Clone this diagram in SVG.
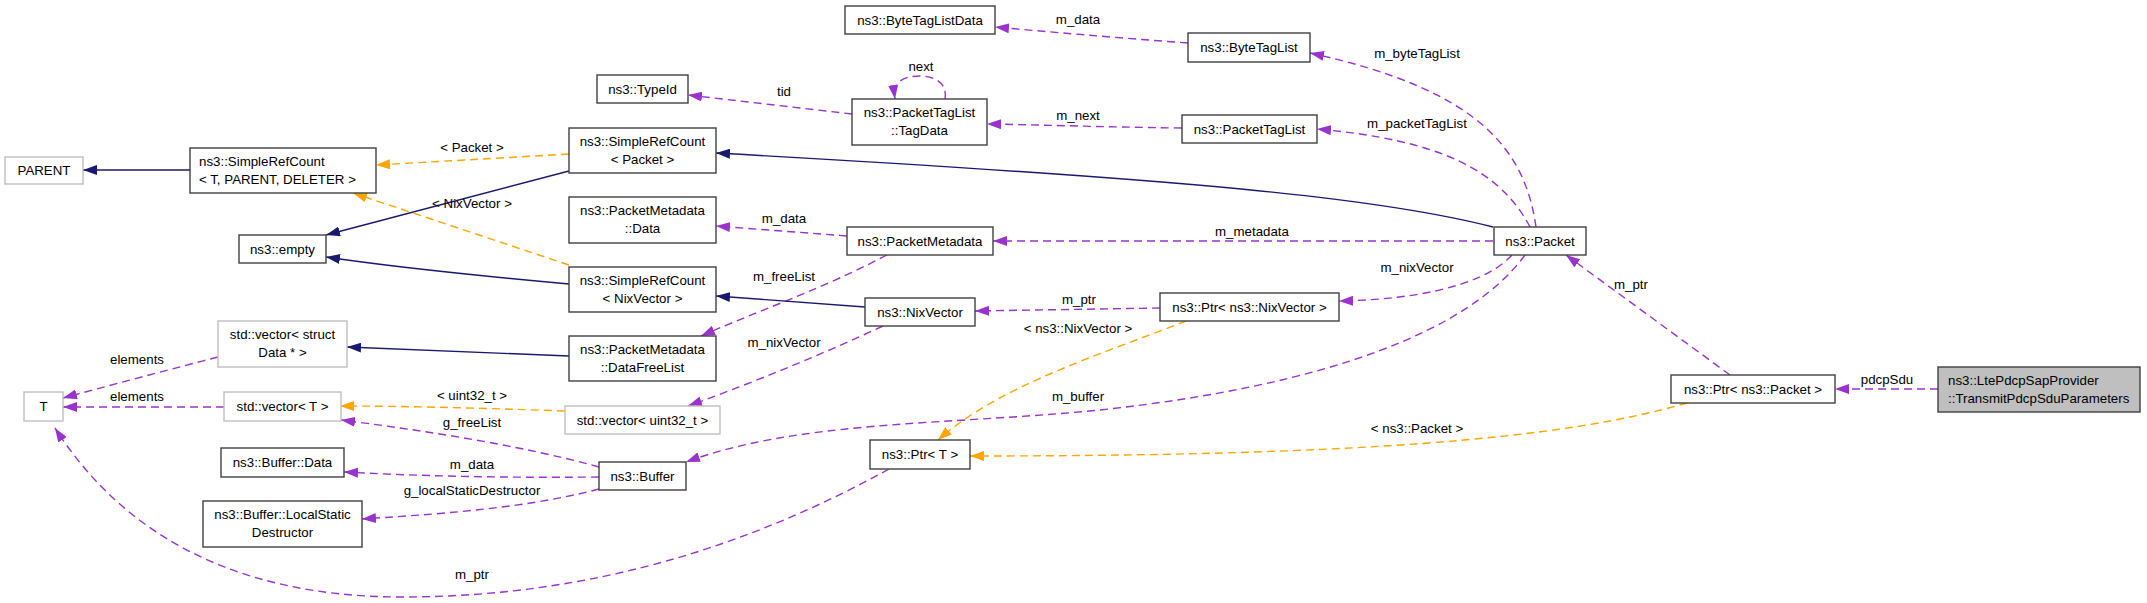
<svg xmlns="http://www.w3.org/2000/svg" width="2147" height="603" viewBox="0 0 2147 603">
<style>
text{font-family:"Liberation Sans",Arial,Helvetica,sans-serif;font-size:13.3px;fill:#000}
.n rect{fill:#fff;stroke:#404040;stroke-width:1.4}
.g rect{fill:#fff;stroke:#bfbfbf;stroke-width:1.4}
.h rect{fill:#bfbfbf;stroke:#404040;stroke-width:1.4}
.c{text-anchor:middle}
.e path{fill:none;stroke-width:1.4}
.inh{stroke:#191970;marker-end:url(#an)}
.use{stroke:#9a32cd;stroke-dasharray:8,5;marker-end:url(#ap)}
.tpl{stroke:#ffa500;stroke-dasharray:8,5;marker-end:url(#ao)}
</style>
<defs>
<marker id="an" viewBox="0 0 14 10" refX="14" refY="5" markerWidth="14" markerHeight="10" markerUnits="userSpaceOnUse" orient="auto"><path d="M0,0 L14,5 L0,10 z" fill="#191970"/></marker>
<marker id="ap" viewBox="0 0 14 10" refX="14" refY="5" markerWidth="14" markerHeight="10" markerUnits="userSpaceOnUse" orient="auto"><path d="M0,0 L14,5 L0,10 z" fill="#9a32cd"/></marker>
<marker id="ao" viewBox="0 0 14 10" refX="14" refY="5" markerWidth="14" markerHeight="10" markerUnits="userSpaceOnUse" orient="auto"><path d="M0,0 L14,5 L0,10 z" fill="#ffa500"/></marker>
</defs>
<rect width="2147" height="603" fill="#fff"/>
<g id="connectors" class="e">
<path class="inh" d="M190,170 L83,170"/>
<path class="tpl" d="M569,154 C500,158 430,162 376,165"/>
<text class="c" x="472" y="152">&lt; Packet &gt;</text>
<path class="inh" d="M569,171 L326,235"/>
<path class="tpl" d="M569,265 L353,193"/>
<text class="c" x="472" y="208">&lt; NixVector &gt;</text>
<path class="inh" d="M569,284 C470,275 400,268 326,257"/>
<path class="inh" d="M569,356 L347,347"/>
<path class="use" d="M218,357 C160,372 100,388 63,398"/>
<text class="c" x="137" y="364">elements</text>
<path class="use" d="M224,407 L63,407"/>
<text class="c" x="137" y="401">elements</text>
<path class="tpl" d="M565,411 C480,408 400,406 340,406"/>
<text class="c" x="472" y="400">&lt; uint32_t &gt;</text>
<path class="use" d="M599,467 C520,445 420,430 341,420"/>
<text class="c" x="472" y="427">g_freeList</text>
<path class="use" d="M599,477 C500,478 420,476 344,472"/>
<text class="c" x="472" y="469">m_data</text>
<path class="use" d="M599,489 C520,510 420,515 362,519"/>
<text class="c" x="472" y="495">g_localStaticDestructor</text>
<path class="use" d="M889,469 C760,540 600,597 402,597 C230,597 120,530 55,428"/>
<text class="c" x="472" y="579">m_ptr</text>
<path class="use" d="M847,236 L716,226"/>
<text class="c" x="784" y="223">m_data</text>
<path class="use" d="M887,255 C820,290 760,310 701,336"/>
<text class="c" x="784" y="281">m_freeList</text>
<path class="inh" d="M865,307 L716,296"/>
<path class="use" d="M883,326 C820,355 760,380 688,406"/>
<text class="c" x="784" y="347">m_nixVector</text>
<path class="use" d="M1160,308 L975,311"/>
<text class="c" x="1079" y="304">m_ptr</text>
<path class="tpl" d="M1186,321 C1100,355 1000,385 938,440"/>
<text class="c" x="1078" y="333">&lt; ns3::NixVector &gt;</text>
<path class="use" d="M1525,255 C1470,330 1330,385 1100,410 C950,425 800,420 686,462"/>
<text class="c" x="1078" y="401">m_buffer</text>
<path class="use" d="M1493,241 L993,241"/>
<text class="c" x="1252" y="236">m_metadata</text>
<path class="inh" d="M1493,227 C1380,198 1200,180 716,153"/>
<path class="use" d="M1512,255 C1480,290 1400,300 1339,301"/>
<text class="c" x="1417" y="272">m_nixVector</text>
<path class="use" d="M1530,227 C1500,170 1440,140 1317,129"/>
<text class="c" x="1417" y="128">m_packetTagList</text>
<path class="use" d="M1536,227 C1525,150 1480,90 1310,53"/>
<text class="c" x="1417" y="58">m_byteTagList</text>
<path class="use" d="M1188,43 C1120,38 1050,32 995,27"/>
<text class="c" x="1078" y="24">m_data</text>
<path class="use" d="M1182,128 C1100,127 1050,125 987,124"/>
<text class="c" x="1078" y="120">m_next</text>
<path class="use" d="M852,114 C800,108 740,101 688,95"/>
<text class="c" x="784" y="96">tid</text>
<path class="use" d="M945,99 C948,80 930,76 920,76 C900,76 893,84 895,99"/>
<text class="c" x="921" y="71">next</text>
<path class="use" d="M1730,375 L1566,255"/>
<text class="c" x="1631" y="289">m_ptr</text>
<path class="tpl" d="M1687,403 C1560,440 1350,456 970,456"/>
<text class="c" x="1417" y="433">&lt; ns3::Packet &gt;</text>
<path class="use" d="M1938,389 L1835,389"/>
<text class="c" x="1887" y="384">pdcpSdu</text>
</g>
<g id="PARENT" class="g"><rect x="5" y="157" width="78" height="27"/><text class="c" x="44" y="175">PARENT</text></g>
<g id="SimpleRefCount_T" class="n"><rect x="190" y="148" width="186" height="45"/><text x="199" y="166">ns3::SimpleRefCount</text><text x="199" y="184">&lt; T, PARENT, DELETER &gt;</text></g>
<g id="empty" class="n"><rect x="239" y="235" width="87" height="28"/><text class="c" x="282.5" y="253.5">ns3::empty</text></g>
<g id="TypeId" class="n"><rect x="597" y="75" width="91" height="28"/><text class="c" x="642.5" y="93.5">ns3::TypeId</text></g>
<g id="ByteTagListData" class="n"><rect x="845" y="6" width="150" height="28"/><text class="c" x="920" y="24.5">ns3::ByteTagListData</text></g>
<g id="TagData" class="n"><rect x="852" y="99" width="135" height="46"/><text class="c" x="919.5" y="117">ns3::PacketTagList</text><text class="c" x="919.5" y="135">::TagData</text></g>
<g id="SimpleRefCount_Packet" class="n"><rect x="569" y="128" width="147" height="45"/><text class="c" x="642.5" y="146">ns3::SimpleRefCount</text><text class="c" x="642.5" y="164">&lt; Packet &gt;</text></g>
<g id="PacketMetadata_Data" class="n"><rect x="569" y="197" width="147" height="46"/><text class="c" x="642.5" y="215">ns3::PacketMetadata</text><text class="c" x="642.5" y="233">::Data</text></g>
<g id="SimpleRefCount_NixVector" class="n"><rect x="569" y="267" width="147" height="45"/><text class="c" x="642.5" y="285">ns3::SimpleRefCount</text><text class="c" x="642.5" y="303">&lt; NixVector &gt;</text></g>
<g id="DataFreeList" class="n"><rect x="569" y="336" width="147" height="45"/><text class="c" x="642.5" y="354">ns3::PacketMetadata</text><text class="c" x="642.5" y="372">::DataFreeList</text></g>
<g id="vector_struct" class="g"><rect x="218" y="321" width="129" height="46"/><text class="c" x="282.5" y="339">std::vector&lt; struct</text><text class="c" x="282.5" y="357">Data * &gt;</text></g>
<g id="T" class="g"><rect x="24" y="392" width="39" height="29"/><text class="c" x="43.5" y="411">T</text></g>
<g id="vector_T" class="g"><rect x="224" y="392" width="117" height="29"/><text class="c" x="282.5" y="411">std::vector&lt; T &gt;</text></g>
<g id="Buffer_Data" class="n"><rect x="221" y="448" width="123" height="29"/><text class="c" x="282.5" y="467">ns3::Buffer::Data</text></g>
<g id="LocalStaticDestructor" class="n"><rect x="203" y="501" width="159" height="46"/><text class="c" x="282.5" y="519">ns3::Buffer::LocalStatic</text><text class="c" x="282.5" y="537">Destructor</text></g>
<g id="vector_uint32" class="g"><rect x="565" y="406" width="155" height="28"/><text class="c" x="642.5" y="424.5">std::vector&lt; uint32_t &gt;</text></g>
<g id="Buffer" class="n"><rect x="599" y="462" width="87" height="28"/><text class="c" x="642.5" y="480.5">ns3::Buffer</text></g>
<g id="PacketMetadata" class="n"><rect x="847" y="227" width="146" height="28"/><text class="c" x="920" y="245.5">ns3::PacketMetadata</text></g>
<g id="NixVector" class="n"><rect x="865" y="298" width="110" height="28"/><text class="c" x="920" y="316.5">ns3::NixVector</text></g>
<g id="Ptr_T" class="n"><rect x="870" y="440" width="100" height="29"/><text class="c" x="920" y="459">ns3::Ptr&lt; T &gt;</text></g>
<g id="Ptr_NixVector" class="n"><rect x="1160" y="293" width="179" height="28"/><text class="c" x="1249.5" y="311.5">ns3::Ptr&lt; ns3::NixVector &gt;</text></g>
<g id="ByteTagList" class="n"><rect x="1188" y="33" width="122" height="29"/><text class="c" x="1249" y="52">ns3::ByteTagList</text></g>
<g id="PacketTagList" class="n"><rect x="1182" y="115" width="135" height="28"/><text class="c" x="1249.5" y="133.5">ns3::PacketTagList</text></g>
<g id="Packet" class="n"><rect x="1494" y="227" width="92" height="28"/><text class="c" x="1540" y="245.5">ns3::Packet</text></g>
<g id="Ptr_Packet" class="n"><rect x="1671" y="375" width="164" height="28"/><text class="c" x="1753" y="393.5">ns3::Ptr&lt; ns3::Packet &gt;</text></g>
<g id="TransmitPdcpSduParameters" class="h"><rect x="1938" y="367" width="202" height="45"/><text x="1948" y="385">ns3::LtePdcpSapProvider</text><text x="1948" y="403">::TransmitPdcpSduParameters</text></g>
</svg>
